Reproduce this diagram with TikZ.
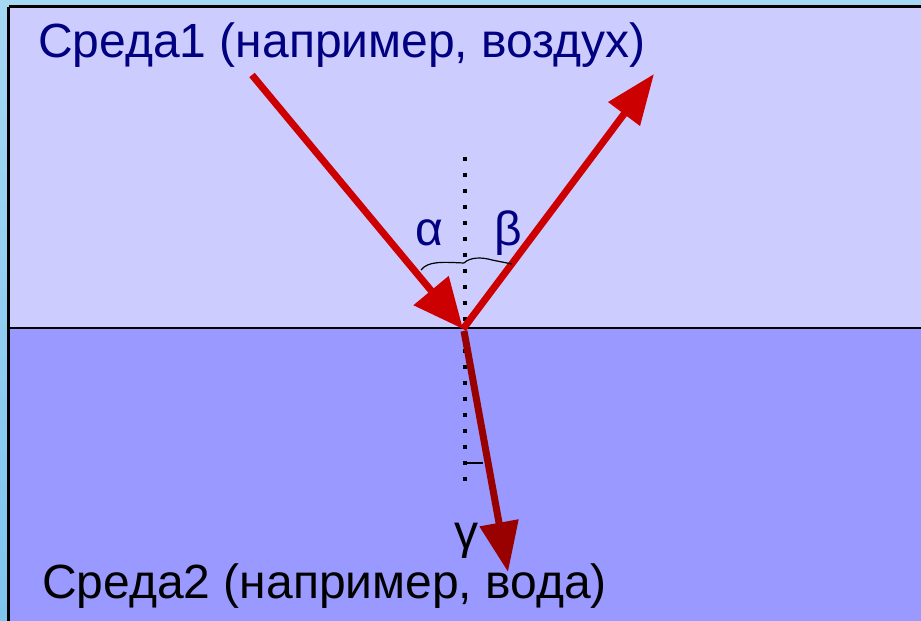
\documentclass[tikz,border=0pt]{standalone}
\usepackage{fontspec}
\setmainfont{Liberation Sans}
\usetikzlibrary{arrows.meta}
\definecolor{navyt}{HTML}{000080}
\definecolor{topc}{HTML}{CCCCFF}
\definecolor{botc}{HTML}{9999FF}
\definecolor{rayr}{HTML}{CC0000}
\definecolor{rayd}{HTML}{990000}
\definecolor{skyA}{HTML}{7EC4EE}
\definecolor{skyB}{HTML}{A6D8F4}
\tikzset{
  ray/.style={line width=7pt, color=rayr},
  bigtip/.style={-{Triangle[length=50pt,width=44pt]}},
  smalltip/.style={-{Triangle[length=50pt,width=38pt]}},
  lbl/.style={font=\fontsize{48}{52}\selectfont, inner sep=0pt},
  brace/.style={line width=1.2pt, black}
}
\begin{document}
\begin{tikzpicture}[x=1pt,y=-1pt]
\useasboundingbox (0,0) rectangle (921,621);
\shade[top color=skyB, bottom color=skyA] (0,0) rectangle (921,621);
\fill[topc] (9,7) rectangle (921,328);
\fill[botc] (9,328) rectangle (921,621);
\draw[line width=3pt] (8.5,6.5) -- (923,6.5);
\draw[line width=3pt] (8.5,6.5) -- (8.5,623);
\draw[line width=1.5pt] (9,328) -- (921,328);
% normal
\coordinate (n1) at (465,157);
\coordinate (n2) at (465,492);
\draw[line width=3.5pt, dash pattern=on 3.5pt off 12.5pt] (n1) -- (n2);
% rays
\coordinate (s) at (252,75);
\coordinate (o) at (463,329);
\coordinate (r) at (654,74);
\coordinate (o2) at (464,331);
\coordinate (t) at (508,572);
\draw[ray, bigtip] (s) -- (o);
\draw[ray, smalltip] (o) -- (r);
\draw[ray, color=rayd, smalltip] (o2) -- (t);
% braces
\coordinate (b1) at (421,270);
\coordinate (b2) at (464,263);
\coordinate (b3) at (512,264);
\draw[brace] (b1) .. controls (428,261) and (442,262) .. (b2);
\draw[brace] (b2) .. controls (470,257) and (482,257) .. (492,260) -- (b3);
\coordinate (k1) at (465,463);
\coordinate (k2) at (483,463);
\draw[line width=1.2pt] (k1) -- (k2);
% labels
\node[lbl, text=navyt, anchor=base west] (top) at (38,57) {Среда1 (например, воздух)};
\node[lbl, text=black, anchor=base west] (bot) at (42,598) {Среда2 (например, вода)};
\node[lbl, text=navyt, anchor=base] (al) at (429,245) {α};
\node[lbl, text=navyt, anchor=base] (be) at (508,245) {β};
\node[lbl, text=black, anchor=base] (ga) at (466,548) {γ};
\end{tikzpicture}
\end{document}
